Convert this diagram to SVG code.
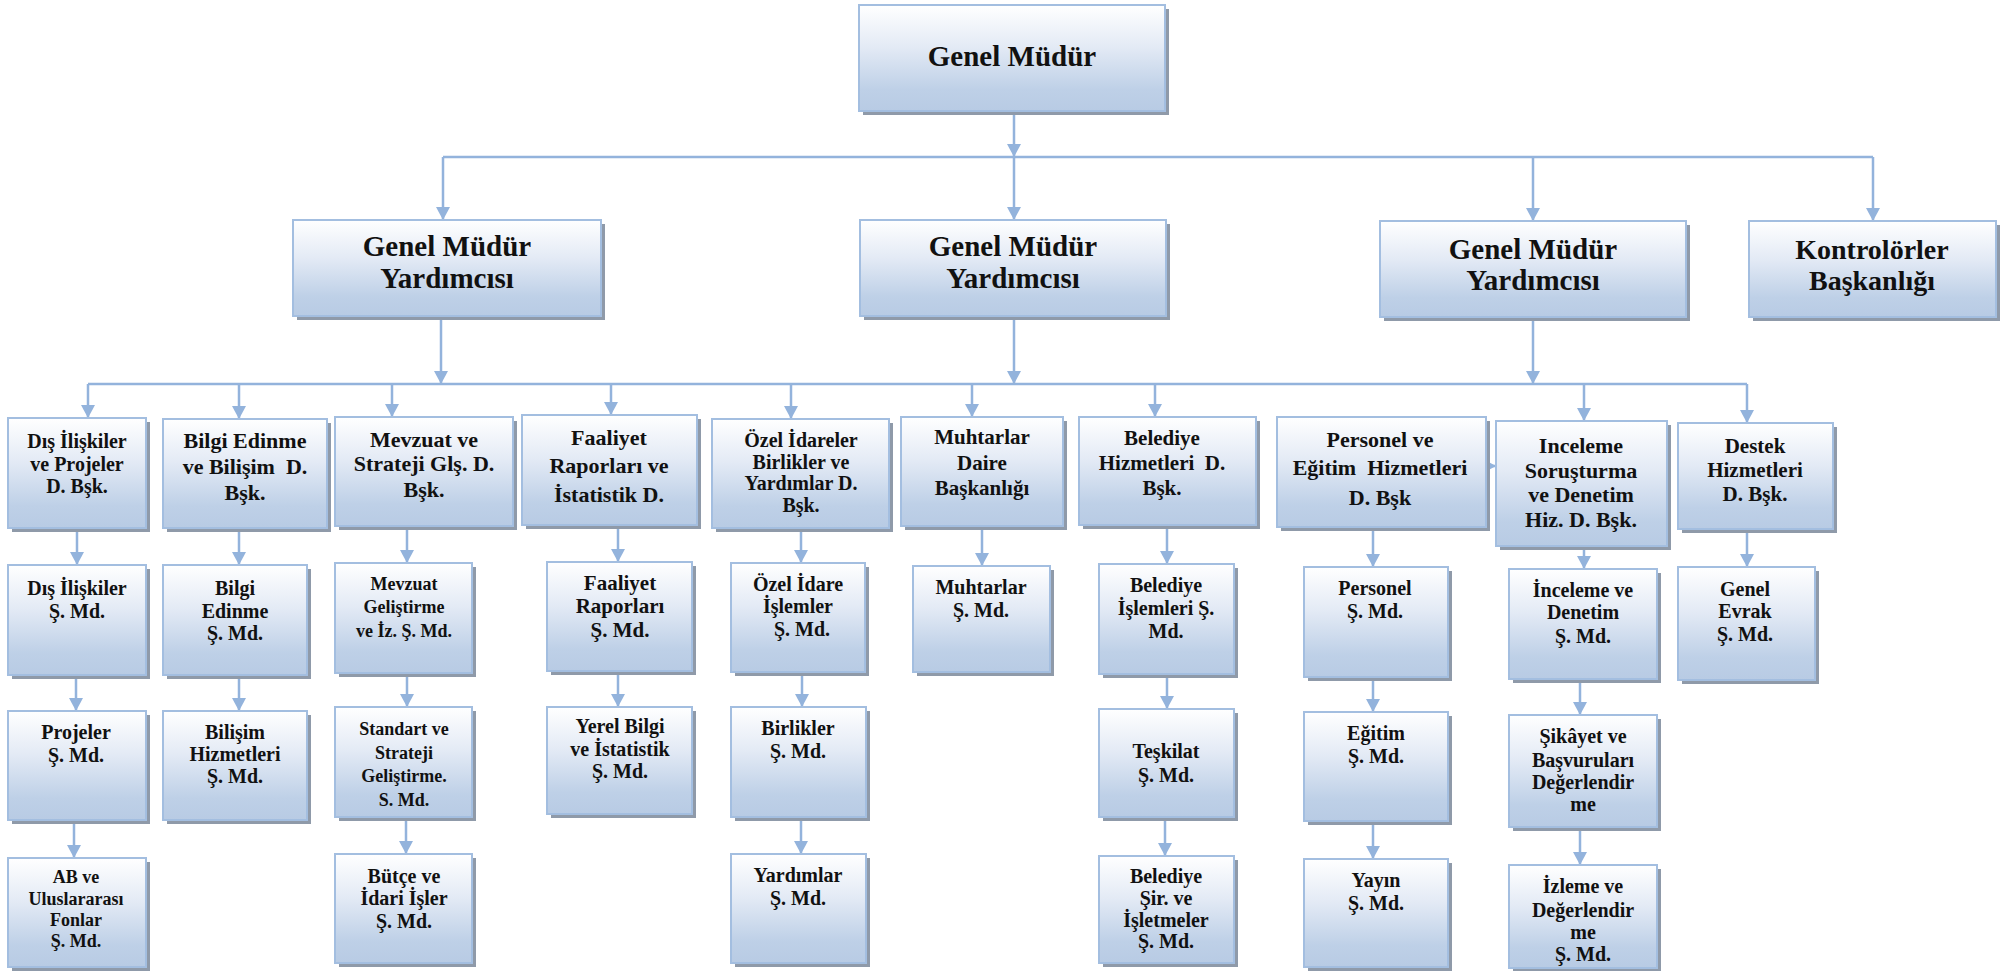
<svg xmlns="http://www.w3.org/2000/svg" width="2013" height="971" viewBox="0 0 2013 971">
<defs>
<linearGradient id="g" x1="0" y1="0" x2="0" y2="1">
<stop offset="0" stop-color="#ffffff"/>
<stop offset="0.4" stop-color="#e3eaf5"/>
<stop offset="0.8" stop-color="#bed0e7"/>
<stop offset="1" stop-color="#b8cbe4"/>
</linearGradient>
<marker id="ah" markerUnits="userSpaceOnUse" markerWidth="14" markerHeight="14" refX="13" refY="7" orient="auto" viewBox="0 0 14 14"><path d="M0,0 L13,7 L0,14 z" fill="#93b3dc"/></marker>
</defs>
<style>
.sh{fill:#8f9aa9}
.bx{fill:url(#g);stroke:#a3bee0;stroke-width:2}
text{font-family:"Liberation Serif","Times New Roman",serif;font-weight:bold;fill:#111111;text-anchor:middle}
.f29{font-size:29px}
.f28{font-size:28px}
.f22{font-size:22px}
.f21{font-size:21px}
.f20{font-size:20px}
.f18{font-size:18px}
.c{stroke:#93b3dc;stroke-width:2.5;fill:none}
.a{marker-end:url(#ah)}
</style>
<g id="connectors">
<path class="c a" d="M1014,111 V157"/>
<path class="c" d="M443,157 H1873"/>
<path class="c a" d="M443,157 V220"/>
<path class="c a" d="M1014,157 V220"/>
<path class="c a" d="M1533,157 V221"/>
<path class="c a" d="M1873,157 V221"/>
<path class="c a" d="M441,316 V384"/>
<path class="c a" d="M1014,316 V384"/>
<path class="c a" d="M1533,317 V384"/>
<path class="c" d="M88,384 H1747"/>
<path class="c a" d="M88,384 V418"/>
<path class="c a" d="M239,384 V419"/>
<path class="c a" d="M392,384 V417"/>
<path class="c a" d="M611,384 V415"/>
<path class="c a" d="M791,384 V419"/>
<path class="c a" d="M972,384 V417"/>
<path class="c a" d="M1155,384 V417"/>
<path class="c a" d="M1584,384 V421"/>
<path class="c a" d="M1747,384 V423"/>
<path class="c a" d="M1484,466 H1496"/>
<path class="c a" d="M77,528 V565"/>
<path class="c a" d="M76,675 V711"/>
<path class="c a" d="M74,820 V858"/>
<path class="c a" d="M239,528 V565"/>
<path class="c a" d="M239,675 V711"/>
<path class="c a" d="M407,526 V563"/>
<path class="c a" d="M407,673 V707"/>
<path class="c a" d="M406,817 V854"/>
<path class="c a" d="M618,525 V562"/>
<path class="c a" d="M618,671 V707"/>
<path class="c a" d="M801,528 V563"/>
<path class="c a" d="M802,672 V707"/>
<path class="c a" d="M801,817 V854"/>
<path class="c a" d="M982,526 V566"/>
<path class="c a" d="M1167,525 V564"/>
<path class="c a" d="M1167,674 V709"/>
<path class="c a" d="M1165,817 V856"/>
<path class="c a" d="M1373,527 V567"/>
<path class="c a" d="M1373,677 V712"/>
<path class="c a" d="M1373,821 V859"/>
<path class="c a" d="M1584,546 V569"/>
<path class="c a" d="M1580,679 V715"/>
<path class="c a" d="M1580,827 V865"/>
<path class="c a" d="M1747,529 V567"/>
</g>
<g id="n-gm"><rect class="sh" x="863" y="9" width="306" height="106"/><rect class="bx" x="859" y="5" width="306" height="106"/><text class="f29"><tspan x="1012" y="66">Genel Müdür</tspan></text></g>
<g id="n-gmy1"><rect class="sh" x="297" y="224" width="308" height="96"/><rect class="bx" x="293" y="220" width="308" height="96"/><text class="f29"><tspan x="447" y="256">Genel Müdür</tspan><tspan x="447" y="288">Yardımcısı</tspan></text></g>
<g id="n-gmy2"><rect class="sh" x="864" y="224" width="306" height="96"/><rect class="bx" x="860" y="220" width="306" height="96"/><text class="f29"><tspan x="1013" y="256">Genel Müdür</tspan><tspan x="1013" y="288">Yardımcısı</tspan></text></g>
<g id="n-gmy3"><rect class="sh" x="1384" y="225" width="306" height="96"/><rect class="bx" x="1380" y="221" width="306" height="96"/><text class="f29"><tspan x="1533" y="259">Genel Müdür</tspan><tspan x="1533" y="290">Yardımcısı</tspan></text></g>
<g id="n-kontrol"><rect class="sh" x="1753" y="225" width="247" height="96"/><rect class="bx" x="1749" y="221" width="247" height="96"/><text class="f28"><tspan x="1872" y="259">Kontrolörler</tspan><tspan x="1872" y="290">Başkanlığı</tspan></text></g>

<g id="n-dis"><rect class="sh" x="12" y="422" width="138" height="110"/><rect class="bx" x="8" y="418" width="138" height="110"/><text class="f20"><tspan x="77" y="448">Dış İlişkiler</tspan><tspan x="77" y="471">ve Projeler</tspan><tspan x="77" y="493">D. Bşk.</tspan></text></g>
<g id="n-bilgi"><rect class="sh" x="167" y="423" width="164" height="109"/><rect class="bx" x="163" y="419" width="164" height="109"/><text class="f22" xml:space="preserve"><tspan x="245" y="448">Bilgi Edinme</tspan><tspan x="245" y="474">ve Bilişim  D.</tspan><tspan x="245" y="500">Bşk.</tspan></text></g>
<g id="n-mevzuat"><rect class="sh" x="339" y="421" width="178" height="109"/><rect class="bx" x="335" y="417" width="178" height="109"/><text class="f22"><tspan x="424" y="447">Mevzuat ve</tspan><tspan x="424" y="471">Strateji Glş. D.</tspan><tspan x="424" y="497">Bşk.</tspan></text></g>
<g id="n-faaliyet"><rect class="sh" x="526" y="419" width="175" height="110"/><rect class="bx" x="522" y="415" width="175" height="110"/><text class="f22"><tspan x="609" y="445">Faaliyet</tspan><tspan x="609" y="473">Raporları ve</tspan><tspan x="609" y="502">İstatistik D.</tspan></text></g>
<g id="n-ozel"><rect class="sh" x="716" y="423" width="177" height="109"/><rect class="bx" x="712" y="419" width="177" height="109"/><text class="f20"><tspan x="801" y="447">Özel İdareler</tspan><tspan x="801" y="469">Birlikler ve</tspan><tspan x="801" y="490">Yardımlar D.</tspan><tspan x="801" y="512">Bşk.</tspan></text></g>
<g id="n-muhtar"><rect class="sh" x="905" y="421" width="162" height="109"/><rect class="bx" x="901" y="417" width="162" height="109"/><text class="f21"><tspan x="982" y="444">Muhtarlar</tspan><tspan x="982" y="470">Daire</tspan><tspan x="982" y="495">Başkanlığı</tspan></text></g>
<g id="n-belediye"><rect class="sh" x="1083" y="421" width="177" height="108"/><rect class="bx" x="1079" y="417" width="177" height="108"/><text class="f21" xml:space="preserve"><tspan x="1162" y="445">Belediye</tspan><tspan x="1162" y="470">Hizmetleri  D.</tspan><tspan x="1162" y="495">Bşk.</tspan></text></g>
<g id="n-personel"><rect class="sh" x="1281" y="421" width="209" height="110"/><rect class="bx" x="1277" y="417" width="209" height="110"/><text class="f22" xml:space="preserve"><tspan x="1380" y="447">Personel ve</tspan><tspan x="1380" y="475">Eğitim  Hizmetleri</tspan><tspan x="1380" y="505">D. Bşk</tspan></text></g>
<g id="n-inceleme"><rect class="sh" x="1500" y="425" width="171" height="125"/><rect class="bx" x="1496" y="421" width="171" height="125"/><text class="f22"><tspan x="1581" y="453">Inceleme</tspan><tspan x="1581" y="478">Soruşturma</tspan><tspan x="1581" y="502">ve Denetim</tspan><tspan x="1581" y="527">Hiz. D. Bşk.</tspan></text></g>
<g id="n-destek"><rect class="sh" x="1682" y="427" width="155" height="106"/><rect class="bx" x="1678" y="423" width="155" height="106"/><text class="f21"><tspan x="1755" y="453">Destek</tspan><tspan x="1755" y="477">Hizmetleri</tspan><tspan x="1755" y="501">D. Bşk.</tspan></text></g>

<g id="n-dis-sm"><rect class="sh" x="12" y="569" width="138" height="110"/><rect class="bx" x="8" y="565" width="138" height="110"/><text class="f20"><tspan x="77" y="595">Dış İlişkiler</tspan><tspan x="77" y="618">Ş. Md.</tspan></text></g>
<g id="n-bilgi-sm"><rect class="sh" x="167" y="569" width="144" height="110"/><rect class="bx" x="163" y="565" width="144" height="110"/><text class="f20"><tspan x="235" y="595">Bilgi</tspan><tspan x="235" y="618">Edinme</tspan><tspan x="235" y="640">Ş. Md.</tspan></text></g>
<g id="n-mevzuat-sm"><rect class="sh" x="339" y="567" width="137" height="110"/><rect class="bx" x="335" y="563" width="137" height="110"/><text class="f18"><tspan x="404" y="590">Mevzuat</tspan><tspan x="404" y="613">Geliştirme</tspan><tspan x="404" y="637">ve İz. Ş. Md.</tspan></text></g>
<g id="n-faaliyet-sm"><rect class="sh" x="551" y="566" width="145" height="109"/><rect class="bx" x="547" y="562" width="145" height="109"/><text class="f21"><tspan x="620" y="590">Faaliyet</tspan><tspan x="620" y="613">Raporları</tspan><tspan x="620" y="637">Ş. Md.</tspan></text></g>
<g id="n-ozel-sm"><rect class="sh" x="735" y="567" width="134" height="109"/><rect class="bx" x="731" y="563" width="134" height="109"/><text class="f20"><tspan x="798" y="591">Özel İdare</tspan><tspan x="798" y="613">İşlemler</tspan><tspan x="802" y="636">Ş. Md.</tspan></text></g>
<g id="n-muhtar-sm"><rect class="sh" x="917" y="570" width="137" height="106"/><rect class="bx" x="913" y="566" width="137" height="106"/><text class="f20"><tspan x="981" y="594">Muhtarlar</tspan><tspan x="981" y="617">Ş. Md.</tspan></text></g>
<g id="n-belediye-sm"><rect class="sh" x="1103" y="568" width="135" height="110"/><rect class="bx" x="1099" y="564" width="135" height="110"/><text class="f20"><tspan x="1166" y="592">Belediye</tspan><tspan x="1166" y="615">İşlemleri Ş.</tspan><tspan x="1166" y="638">Md.</tspan></text></g>
<g id="n-personel-sm"><rect class="sh" x="1308" y="571" width="144" height="110"/><rect class="bx" x="1304" y="567" width="144" height="110"/><text class="f20"><tspan x="1375" y="595">Personel</tspan><tspan x="1375" y="618">Ş. Md.</tspan></text></g>
<g id="n-inceleme-sm"><rect class="sh" x="1513" y="573" width="148" height="110"/><rect class="bx" x="1509" y="569" width="148" height="110"/><text class="f20"><tspan x="1583" y="597">İnceleme ve</tspan><tspan x="1583" y="619">Denetim</tspan><tspan x="1583" y="643">Ş. Md.</tspan></text></g>
<g id="n-genel-evrak"><rect class="sh" x="1682" y="571" width="137" height="113"/><rect class="bx" x="1678" y="567" width="137" height="113"/><text class="f20"><tspan x="1745" y="596">Genel</tspan><tspan x="1745" y="618">Evrak</tspan><tspan x="1745" y="641">Ş. Md.</tspan></text></g>

<g id="n-projeler"><rect class="sh" x="12" y="715" width="138" height="109"/><rect class="bx" x="8" y="711" width="138" height="109"/><text class="f20"><tspan x="76" y="739">Projeler</tspan><tspan x="76" y="762">Ş. Md.</tspan></text></g>
<g id="n-bilisim"><rect class="sh" x="167" y="715" width="144" height="109"/><rect class="bx" x="163" y="711" width="144" height="109"/><text class="f20"><tspan x="235" y="739">Bilişim</tspan><tspan x="235" y="761">Hizmetleri</tspan><tspan x="235" y="783">Ş. Md.</tspan></text></g>
<g id="n-standart"><rect class="sh" x="339" y="711" width="137" height="110"/><rect class="bx" x="335" y="707" width="137" height="110"/><text class="f18"><tspan x="404" y="735">Standart ve</tspan><tspan x="404" y="759">Strateji</tspan><tspan x="404" y="782">Geliştirme.</tspan><tspan x="404" y="806">S. Md.</tspan></text></g>
<g id="n-yerel"><rect class="sh" x="551" y="711" width="145" height="107"/><rect class="bx" x="547" y="707" width="145" height="107"/><text class="f20"><tspan x="620" y="733">Yerel Bilgi</tspan><tspan x="620" y="756">ve İstatistik</tspan><tspan x="620" y="778">Ş. Md.</tspan></text></g>
<g id="n-birlikler"><rect class="sh" x="735" y="711" width="135" height="110"/><rect class="bx" x="731" y="707" width="135" height="110"/><text class="f20"><tspan x="798" y="735">Birlikler</tspan><tspan x="798" y="758">Ş. Md.</tspan></text></g>
<g id="n-teskilat"><rect class="sh" x="1103" y="713" width="135" height="108"/><rect class="bx" x="1099" y="709" width="135" height="108"/><text class="f20"><tspan x="1166" y="758">Teşkilat</tspan><tspan x="1166" y="782">Ş. Md.</tspan></text></g>
<g id="n-egitim"><rect class="sh" x="1308" y="716" width="144" height="109"/><rect class="bx" x="1304" y="712" width="144" height="109"/><text class="f20"><tspan x="1376" y="740">Eğitim</tspan><tspan x="1376" y="763">Ş. Md.</tspan></text></g>
<g id="n-sikayet"><rect class="sh" x="1513" y="719" width="148" height="112"/><rect class="bx" x="1509" y="715" width="148" height="112"/><text class="f20"><tspan x="1583" y="743">Şikâyet ve</tspan><tspan x="1583" y="767">Başvuruları</tspan><tspan x="1583" y="789">Değerlendir</tspan><tspan x="1583" y="811">me</tspan></text></g>

<g id="n-ab"><rect class="sh" x="12" y="862" width="138" height="109"/><rect class="bx" x="8" y="858" width="138" height="109"/><text class="f18"><tspan x="76" y="883">AB ve</tspan><tspan x="76" y="905">Uluslararası</tspan><tspan x="76" y="926">Fonlar</tspan><tspan x="76" y="947">Ş. Md.</tspan></text></g>
<g id="n-butce"><rect class="sh" x="339" y="858" width="137" height="109"/><rect class="bx" x="335" y="854" width="137" height="109"/><text class="f20"><tspan x="404" y="883">Bütçe ve</tspan><tspan x="404" y="905">İdari İşler</tspan><tspan x="404" y="928">Ş. Md.</tspan></text></g>
<g id="n-yardimlar"><rect class="sh" x="735" y="858" width="135" height="109"/><rect class="bx" x="731" y="854" width="135" height="109"/><text class="f20"><tspan x="798" y="882">Yardımlar</tspan><tspan x="798" y="905">Ş. Md.</tspan></text></g>
<g id="n-belediye-sir"><rect class="sh" x="1103" y="860" width="135" height="107"/><rect class="bx" x="1099" y="856" width="135" height="107"/><text class="f20"><tspan x="1166" y="883">Belediye</tspan><tspan x="1166" y="905">Şir. ve</tspan><tspan x="1166" y="927">İşletmeler</tspan><tspan x="1166" y="948">Ş. Md.</tspan></text></g>
<g id="n-yayin"><rect class="sh" x="1308" y="863" width="144" height="108"/><rect class="bx" x="1304" y="859" width="144" height="108"/><text class="f20"><tspan x="1376" y="887">Yayın</tspan><tspan x="1376" y="910">Ş. Md.</tspan></text></g>
<g id="n-izleme"><rect class="sh" x="1513" y="869" width="148" height="103"/><rect class="bx" x="1509" y="865" width="148" height="103"/><text class="f20"><tspan x="1583" y="893">İzleme ve</tspan><tspan x="1583" y="917">Değerlendir</tspan><tspan x="1583" y="939">me</tspan><tspan x="1583" y="961">Ş. Md.</tspan></text></g>
</svg>
